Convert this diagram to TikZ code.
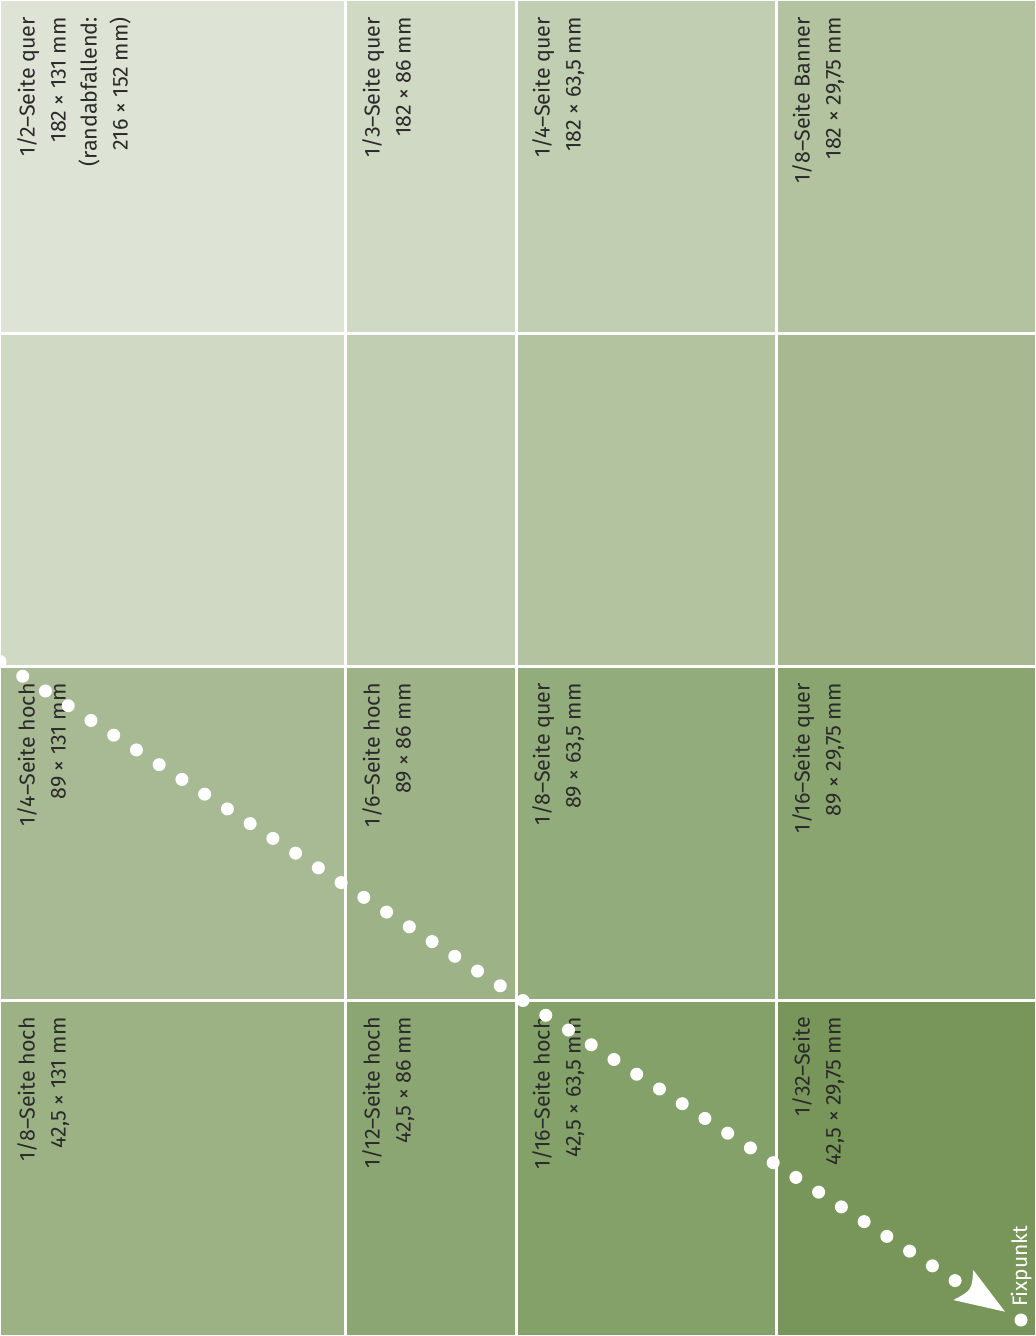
\documentclass[tikz,border=0pt]{standalone}
\usepackage{fontspec}
\setmainfont{Fira Sans}
\usetikzlibrary{calc}
\definecolor{txt}{HTML}{2A2A2A}
\definecolor{grA}{HTML}{DEE4D5}
\definecolor{grB}{HTML}{CFD9C3}
\definecolor{grC}{HTML}{C1CEB1}
\definecolor{grD}{HTML}{B3C39F}
\definecolor{grE}{HTML}{A8B891}
\definecolor{grF}{HTML}{A8BA94}
\definecolor{grG}{HTML}{9DB387}
\definecolor{grH}{HTML}{93AC7C}
\definecolor{grI}{HTML}{8AA570}
\definecolor{grJ}{HTML}{9CB285}
\definecolor{grK}{HTML}{8CA673}
\definecolor{grL}{HTML}{84A169}
\definecolor{grM}{HTML}{78965A}
\tikzset{
  lbl/.style={rotate=90,anchor=north east,inner sep=0pt,align=right,text=txt,
    font=\fontsize{21.5}{31}\selectfont},
  gridline/.style={draw=white,line width=3pt},
  dotc/.style={fill=white}
}
\begin{document}
\begin{tikzpicture}[x=1pt,y=-1pt]
\useasboundingbox (0,0) rectangle (1036,1336);
\clip (0,0) rectangle (1036,1336);
% cells
\fill[grA] (0,0) rectangle (345,333);
\fill[grB] (345,0) rectangle (516,333);
\fill[grC] (516,0) rectangle (776,333);
\fill[grD] (776,0) rectangle (1036,333);
\fill[grB] (0,333) rectangle (345,666);
\fill[grC] (345,333) rectangle (516,666);
\fill[grD] (516,333) rectangle (776,666);
\fill[grE] (776,333) rectangle (1036,666);
\fill[grF] (0,666) rectangle (345,1000);
\fill[grG] (345,666) rectangle (516,1000);
\fill[grH] (516,666) rectangle (776,1000);
\fill[grI] (776,666) rectangle (1036,1000);
\fill[grJ] (0,1000) rectangle (345,1336);
\fill[grK] (345,1000) rectangle (516,1336);
\fill[grL] (516,1000) rectangle (776,1336);
\fill[grM] (776,1000) rectangle (1036,1336);
% grid
\foreach \gx in {345,516,776} \draw[gridline] (\gx,0) -- (\gx,1336);
\foreach \gy in {333,666,1000} \draw[gridline] (0,\gy) -- (1036,\gy);
\draw[white,line width=1.5pt] (0,0) rectangle (1036,1336);
% labels
\node[lbl] (t11) at (17,17) {1/2–Seite quer\\182 × 131 mm\\(randabfallend:\\216 × 152 mm)};
\node[lbl] (t12) at (362,17) {1/3–Seite quer\\182 × 86 mm};
\node[lbl] (t13) at (532,17) {1/4–Seite quer\\182 × 63,5 mm};
\node[lbl] (t14) at (792,17) {1/8–Seite Banner\\182 × 29,75 mm};
\node[lbl] (t31) at (17,683) {1/4–Seite hoch\\89 × 131 mm};
\node[lbl] (t32) at (362,683) {1/6–Seite hoch\\89 × 86 mm};
\node[lbl] (t33) at (532,683) {1/8–Seite quer\\89 × 63,5 mm};
\node[lbl] (t34) at (792,683) {1/16–Seite quer\\89 × 29,75 mm};
\node[lbl] (t41) at (17,1017) {1/8–Seite hoch\\42,5 × 131 mm};
\node[lbl] (t42) at (362,1017) {1/12–Seite hoch\\42,5 × 86 mm};
\node[lbl] (t43) at (532,1017) {1/16–Seite hoch\\42,5 × 63,5 mm};
\node[lbl] (t44) at (792,1017) {1/32–Seite\\42,5 × 29,75 mm};
% dotted diagonal
\coordinate (start) at (0,661.5);
\coordinate (tip) at (1005,1311.7);
\foreach \k in {0,...,42} \fill[dotc] ($(start)+\k*(22.74,14.74)$) circle (6.5);
\fill[white] (tip) -- (973.3,1270) .. controls (971.7,1290.3) .. (953.3,1300) -- cycle;
% Fixpunkt
\coordinate (fix) at (1021,1320);
\fill[white] (fix) circle (6.5);
\node[rotate=90,anchor=base west,inner sep=0pt,text=white,font=\fontsize{21}{25}\selectfont] (fixlbl) at (1027,1307) {Fixpunkt};
\end{tikzpicture}
\end{document}
